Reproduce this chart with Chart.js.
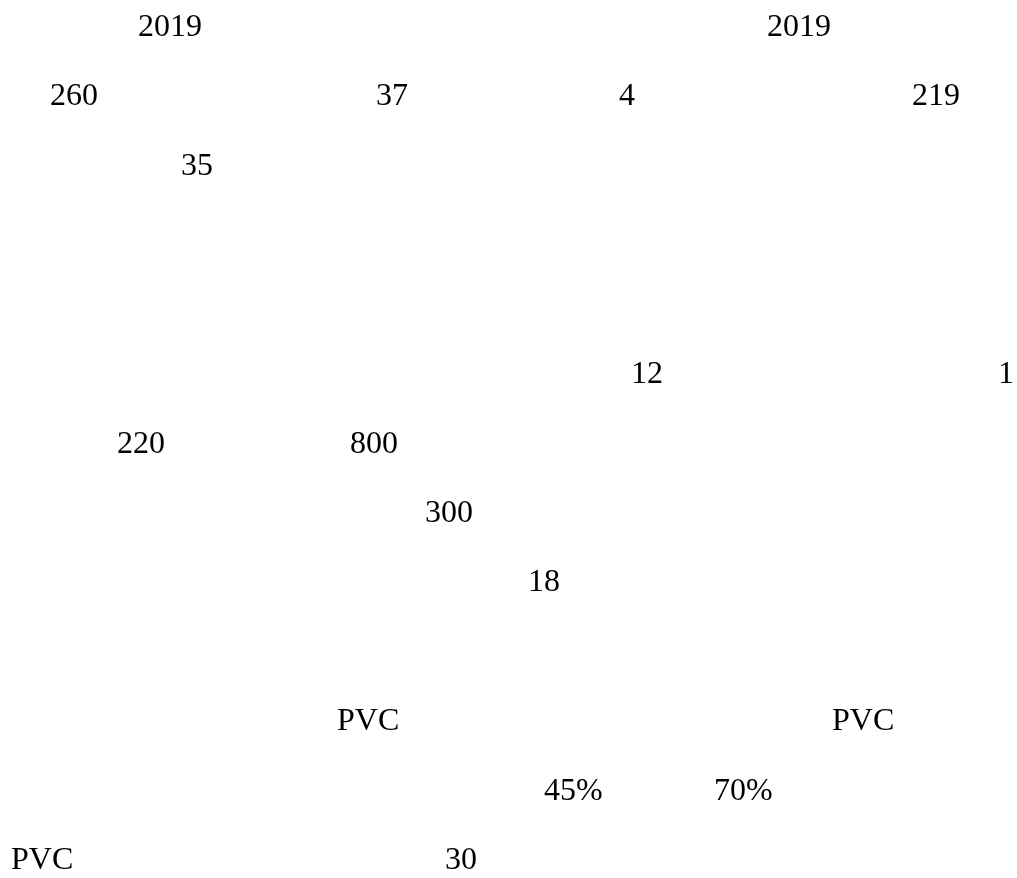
<!DOCTYPE html>
<html>
<head>
<meta charset="utf-8">
<script src="https://cdn.jsdelivr.net/npm/chart.js@4/dist/chart.umd.min.js"></script>
<style>
    html, body { margin: 0; padding: 0; background: #ffffff; }
    #page { display: block; }
</style>
</head>
<body>
<canvas id="page" width="1017" height="878"></canvas>
<script>
// text fragments, the line each sits on, and its column (left edge)
const labels  = ['2019', '2019', '260', '37', '4', '219', '35', '12', '1', '220', '800', '300', '18', 'PVC', 'PVC', '45%', '70%', 'PVC', '30'];
const lines   = [0, 0, 1, 1, 1, 1, 2, 5, 5, 6, 6, 7, 8, 10, 10, 11, 11, 12, 12];
const columns = [138, 767, 50, 376, 619, 912, 181, 631, 998, 117, 350, 425, 528, 337, 832, 544, 714, 11, 445];

const FONT = '32px "Liberation Serif", "Times New Roman", serif';

const textPlugin = {
    id: 'pageText',
    afterDatasetsDraw(chart) {
        const ctx  = chart.ctx;
        const meta = chart.getDatasetMeta(0);
        ctx.save();
        ctx.font         = FONT;
        ctx.fillStyle    = '#000000';
        ctx.textAlign    = 'left';
        ctx.textBaseline = 'alphabetic';
        meta.data.forEach((pt, i) => {
            ctx.fillText(labels[i], pt.x, pt.y);
        });
        ctx.restore();
    }
};

new Chart(document.getElementById('page').getContext('2d'), {
    type: 'scatter',
    data: {
        datasets: [{
            data:        columns.map((c, i) => ({ x: c, y: lines[i] })),
            pointRadius: 0,
            pointHoverRadius: 0,
        }]
    },
    options: {
        responsive: false,
        animation:  false,
        events:     [],
        layout:     { padding: 0 },
        plugins: {
            legend:  { display: false },
            tooltip: { enabled: false }
        },
        scales: {
            x: { type: 'linear', display: false, min: 0, max: 1017 },
            y: { type: 'linear', display: false, reverse: true, min: -0.52, max: 12.13 }
        }
    },
    plugins: [textPlugin]
});
</script>
</body>
</html>
